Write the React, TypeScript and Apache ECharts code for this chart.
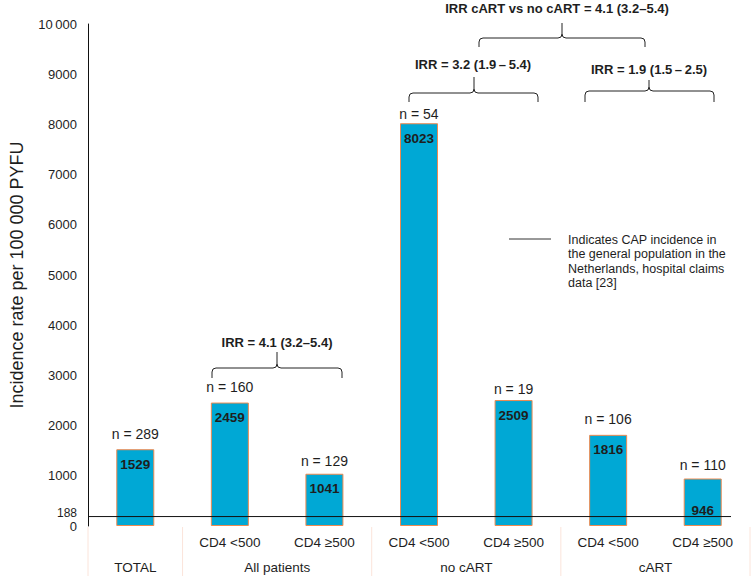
import React, { useEffect, useRef } from "react";
import * as echarts from "echarts";

// ---- data ----
const subgroupLabels = ["", "CD4 <500", "CD4 \u2265500", "CD4 <500", "CD4 \u2265500", "CD4 <500", "CD4 \u2265500"];
const groupNames = ["TOTAL", "All patients", "no cART", "cART"];
const groupFrom = [0, 1, 3, 5];
const groupTo = [0, 2, 4, 6];
const incidence = [1529, 2459, 1041, 8023, 2509, 1816, 946];
const nPatients = [289, 160, 129, 54, 19, 106, 110];
const referenceRate = 188;
const yTicks = [0, 1000, 2000, 3000, 4000, 5000, 6000, 7000, 8000, 9000, 10000];
const irrTexts = [
  "IRR = 4.1 (3.2\u20135.4)",
  "IRR = 3.2 (1.9\u2009\u2013\u20095.4)",
  "IRR = 1.9 (1.5\u2009\u2013\u20092.5)",
  "IRR cART vs no cART = 4.1 (3.2\u20135.4)",
];
const legendText = "Indicates CAP incidence in\nthe general population in the\nNetherlands, hospital claims\ndata [23]";
const axisTitle = "Incidence rate per 100 000 PYFU";

// ---- styles (not data) ----
const nLabelGap = [8, 9, 6, 2, 4, 9, 7];
const FONT = "'Liberation Sans', Arial, Helvetica, sans-serif";
const BAR_COLOR = "#00A8D5";
const BAR_BORDER = "#EE8A50";
const TEXT = "#1e1e1e";

const Brace = echarts.graphic.extendShape({
  shape: { x1: 0, x2: 0, xm: 0, y: 0, down: 10, up: 16, r: 4 },
  buildPath(ctx: any, s: any) {
    const { x1, x2, xm, y, down, up, r } = s;
    ctx.moveTo(x1, y + down);
    ctx.lineTo(x1, y + r);
    ctx.quadraticCurveTo(x1, y, x1 + r, y);
    ctx.lineTo(xm - r, y);
    ctx.quadraticCurveTo(xm, y, xm, y - r);
    ctx.lineTo(xm, y - up);
    ctx.moveTo(xm, y - r);
    ctx.quadraticCurveTo(xm, y, xm + r, y);
    ctx.lineTo(x2 - r, y);
    ctx.quadraticCurveTo(x2, y, x2, y + r);
    ctx.lineTo(x2, y + down);
  },
});
echarts.graphic.registerShape("brace", Brace);

export default function App() {
  const ref = useRef<HTMLDivElement>(null);
  useEffect(() => {
    if (!ref.current) return;
    const chart = echarts.init(ref.current, null, { renderer: "svg" });
    const option: any = {
      animation: false,
      grid: { left: 84, right: 2, top: 24, bottom: 59, containLabel: false },
      xAxis: {
        type: "category",
        data: subgroupLabels,
        axisLine: { show: false },
        axisTick: { show: false },
        axisLabel: { fontSize: 13.5, color: TEXT, fontFamily: FONT, margin: 9, interval: 0 },
        splitLine: { show: false },
      },
      yAxis: {
        type: "value",
        min: yTicks[0],
        max: yTicks[yTicks.length - 1],
        interval: 1000,
        name: axisTitle,
        nameLocation: "middle",
        nameGap: 62,
        nameTextStyle: { fontSize: 18, color: TEXT, fontFamily: FONT },
        axisLine: { show: true, lineStyle: { color: "#111", width: 1 } },
        axisTick: { show: false },
        splitLine: { show: false },
        axisLabel: {
          fontSize: 13,
          color: TEXT,
          fontFamily: FONT,
          margin: 11,
          formatter: (v: number) => (v >= 10000 ? "10\u2009000" : String(v)),
        },
      },
      series: [
        {
          type: "bar",
          barWidth: 38,
          data: incidence.map((v, i) => ({
            value: v,
            label: i === incidence.length - 1 ? { position: "insideBottom", distance: 9 } : undefined,
          })),
          itemStyle: { color: BAR_COLOR, borderColor: BAR_BORDER, borderWidth: 1 },
          label: {
            show: true,
            position: "insideTop",
            distance: 8,
            fontSize: 13.5,
            fontWeight: "bold",
            color: TEXT,
            fontFamily: FONT,
          },
          z: 2,
        },
        {
          type: "bar",
          barWidth: 38,
          barGap: "-100%",
          silent: true,
          data: incidence.map((v, i) => ({ value: v, label: { distance: nLabelGap[i] } })),
          itemStyle: { color: "rgba(0,0,0,0)" },
          label: {
            show: true,
            position: "top",
            fontSize: 14,
            color: TEXT,
            fontFamily: FONT,
            formatter: (p: any) => "n = " + nPatients[p.dataIndex],
          },
          z: 1,
        },
      ],
    };
    chart.setOption(option);

    const xc = (i: number) => chart.convertToPixel({ xAxisIndex: 0 }, i) as number;
    const yp = (v: number) => chart.convertToPixel({ yAxisIndex: 0 }, v) as number;
    const step = xc(1) - xc(0);
    const gridLeft = xc(0) - step / 2;
    const gridRight = xc(subgroupLabels.length - 1) + step / 2;
    const yZero = yp(0);
    const yRef = yp(referenceRate);

    const g: any[] = [];
    // reference line
    g.push({
      type: "line",
      shape: { x1: gridLeft, y1: yRef, x2: gridRight - 19, y2: yRef },
      style: { stroke: "#111", lineWidth: 1 },
      z: 10,
    });
    g.push({
      type: "text",
      x: gridLeft - 11,
      y: yRef - 4,
      style: { text: String(referenceRate), font: `12px ${FONT}`, fill: TEXT, align: "right", verticalAlign: "middle" },
    });
    // table borders
    const boundaries = [gridLeft, ...groupTo.map((t) => xc(t) + step / 2)];
    boundaries.forEach((bx) => {
      g.push({
        type: "line",
        shape: { x1: bx, y1: yZero + 1, x2: bx, y2: yZero + 50 },
        style: { stroke: "#FBE4DA", lineWidth: 1 },
      });
    });
    // group labels
    groupNames.forEach((name, k) => {
      const cx = (xc(groupFrom[k]) + xc(groupTo[k])) / 2;
      g.push({
        type: "text",
        x: cx,
        y: yZero + 41,
        style: { text: name, font: `13.5px ${FONT}`, fill: TEXT, align: "center", verticalAlign: "middle" },
      });
    });
    // braces
    const braces = [
      { x1: 212, x2: 342, xm: 277, y: 368, down: 10, up: 16, tx: 277, ty: 342 },
      { x1: 409, x2: 538, xm: 474, y: 93, down: 9, up: 16, tx: 473, ty: 64 },
      { x1: 585, x2: 714, xm: 649, y: 91, down: 11, up: 11, tx: 649, ty: 69 },
      { x1: 479, x2: 645, xm: 562, y: 38, down: 9, up: 15, tx: 557, ty: 8 },
    ];
    braces.forEach((b, k) => {
      g.push({
        type: "brace",
        shape: { x1: b.x1, x2: b.x2, xm: b.xm, y: b.y, down: b.down, up: b.up, r: 4 },
        style: { stroke: "#222", fill: null, lineWidth: 1 },
      });
      g.push({
        type: "text",
        x: b.tx,
        y: b.ty,
        style: { text: irrTexts[k], font: `bold 13px ${FONT}`, fill: TEXT, align: "center", verticalAlign: "middle" },
      });
    });
    // legend
    g.push({
      type: "line",
      shape: { x1: 509, y1: 239, x2: 551, y2: 239 },
      style: { stroke: "#333", lineWidth: 1 },
    });
    g.push({
      type: "text",
      x: 568,
      y: 233,
      style: { text: legendText, font: `12.5px ${FONT}`, fill: TEXT, align: "left", verticalAlign: "top", lineHeight: 14.3 },
    });
    chart.setOption({ graphic: g });

    return () => chart.dispose();
  }, []);
  return <div ref={ref} style={{ width: 752, height: 585, position: "absolute", left: 0, top: 0 }} />;
}
